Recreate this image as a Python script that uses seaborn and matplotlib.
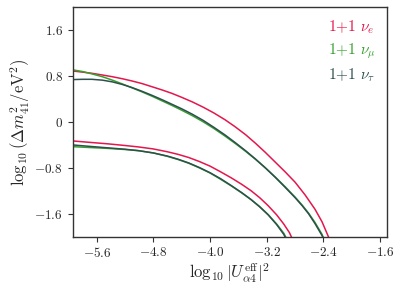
import numpy as np
import pandas as pd
import matplotlib
matplotlib.use("Agg")
import matplotlib.pyplot as plt
import seaborn as sns

# -------------------------
# data (log10 |U|^2 , log10 dm^2)
# -------------------------
flavours = [r"1+1 $\nu_e$", r"1+1 $\nu_\mu$", r"1+1 $\nu_\tau$"]
colours = ["#e3174c", "#35a02c", "#2f4f4f"]

# upper branch
up_e_x = [-5.94, -5.80, -5.67, -5.52, -5.38, -5.24, -5.10, -4.96, -4.82, -4.68, -4.54, -4.40, -4.25,
          -4.10, -3.95, -3.79, -3.65, -3.50, -3.36, -3.22, -3.08, -2.94, -2.80, -2.66, -2.52, -2.42, -2.33, -2.31]
up_e_y = [0.89, 0.87, 0.85, 0.82, 0.79, 0.755, 0.715, 0.67, 0.615, 0.56, 0.50, 0.43, 0.35,
          0.26, 0.16, 0.04, -0.08, -0.22, -0.37, -0.53, -0.70, -0.87, -1.05, -1.27, -1.52, -1.74, -2.00, -2.06]

up_mu_x = [-5.94, -5.80, -5.67, -5.52, -5.38, -5.24, -5.10, -4.96, -4.82, -4.68, -4.54, -4.40, -4.25,
           -4.10, -3.95, -3.79, -3.65, -3.50, -3.36, -3.22, -3.08, -2.94, -2.80, -2.70, -2.61, -2.52, -2.42, -2.40]
up_mu_y = [0.91, 0.88, 0.84, 0.79, 0.73, 0.665, 0.595, 0.525, 0.45, 0.37, 0.29, 0.205, 0.11,
           0.005, -0.11, -0.245, -0.37, -0.51, -0.65, -0.80, -0.96, -1.13, -1.31, -1.45, -1.59, -1.75, -1.96, -2.02]

up_tau_x = [-5.94, -5.80, -5.67, -5.52, -5.38, -5.24, -5.10, -4.96, -4.82, -4.68, -4.54, -4.40, -4.25,
            -4.10, -3.95, -3.79, -3.65, -3.50, -3.36, -3.22, -3.08, -2.94, -2.80, -2.70, -2.61, -2.52, -2.42, -2.405]
up_tau_y = [0.74, 0.745, 0.745, 0.73, 0.70, 0.655, 0.60, 0.535, 0.465, 0.39, 0.31, 0.23, 0.135,
            0.03, -0.09, -0.225, -0.355, -0.50, -0.645, -0.80, -0.965, -1.14, -1.32, -1.46, -1.60, -1.77, -1.98, -2.02]

# lower branch
lo_e_x = [-5.94, -5.70, -5.45, -5.20, -5.01, -4.80, -4.60, -4.45, -4.30, -4.15, -4.00,
          -3.85, -3.70, -3.55, -3.42, -3.30, -3.18, -3.06, -2.96, -2.88, -2.85]
lo_e_y = [-0.33, -0.355, -0.38, -0.41, -0.435, -0.47, -0.52, -0.565, -0.62, -0.69, -0.77,
          -0.87, -0.975, -1.09, -1.20, -1.32, -1.46, -1.62, -1.78, -1.93, -2.01]

lo_mu_x = [-5.94, -5.70, -5.45, -5.20, -5.01, -4.80, -4.60, -4.45, -4.30, -4.15, -4.00,
           -3.85, -3.70, -3.55, -3.42, -3.30, -3.18, -3.06, -2.96, -2.93]
lo_mu_y = [-0.43, -0.445, -0.46, -0.48, -0.50, -0.54, -0.60, -0.655, -0.72, -0.80, -0.89,
           -1.00, -1.115, -1.24, -1.355, -1.475, -1.615, -1.78, -1.94, -2.01]

lo_tau_x = [-5.94, -5.70, -5.45, -5.20, -5.01, -4.80, -4.60, -4.45, -4.30, -4.15, -4.00,
            -3.85, -3.70, -3.55, -3.42, -3.30, -3.18, -3.06, -2.96, -2.94]
lo_tau_y = [-0.40, -0.425, -0.45, -0.475, -0.50, -0.54, -0.595, -0.65, -0.715, -0.795, -0.885,
            -0.99, -1.11, -1.235, -1.355, -1.48, -1.62, -1.79, -1.96, -2.01]

x_ticks = [-5.6, -4.8, -4.0, -3.2, -2.4, -1.6]
y_ticks = [-1.6, -0.8, 0, 0.8, 1.6]

# -------------------------
# long table for seaborn
# -------------------------
pieces = [
    (flavours[0], "upper", up_e_x, up_e_y),
    (flavours[1], "upper", up_mu_x, up_mu_y),
    (flavours[2], "upper", up_tau_x, up_tau_y),
    (flavours[0], "lower", lo_e_x, lo_e_y),
    (flavours[1], "lower", lo_mu_x, lo_mu_y),
    (flavours[2], "lower", lo_tau_x, lo_tau_y),
]
df = pd.concat(
    [pd.DataFrame({"x": xs, "y": ys, "flavour": f, "branch": b}) for f, b, xs, ys in pieces],
    ignore_index=True,
)

sns.set_style("ticks")
plt.rcParams["font.family"] = "serif"
plt.rcParams["font.serif"] = ["cmr10", "DejaVu Serif"]
plt.rcParams["mathtext.fontset"] = "cm"
plt.rcParams["axes.formatter.use_mathtext"] = True


def tick_text(v):
    # 0 is written bare, everything else with one decimal
    return "$0$" if v == 0 else f"${v:.1f}$"


fig = plt.figure(figsize=(4.05, 2.94), dpi=100)
ax = fig.add_axes([0.1795, 0.195, 0.7765, 0.78])

sns.lineplot(
    data=df, x="x", y="y", hue="flavour", units="branch", estimator=None, sort=False,
    hue_order=flavours, palette=colours, linewidth=1.1, ax=ax,
)

ax.set_xlim(-5.94, -1.5)
ax.set_ylim(-2.0, 2.0)
ax.set_xticks(x_ticks)
ax.set_yticks(y_ticks)
ax.set_xticklabels([tick_text(v) for v in x_ticks])
ax.set_yticklabels([tick_text(v) for v in y_ticks])
ax.tick_params(labelsize=9.5, length=3.5, width=0.8, color="#333333")
for s in ax.spines.values():
    s.set_color("#333333")
    s.set_linewidth(1.0)

ax.set_xlabel(r"$\log_{10}|U_{\alpha 4}^{\rm eff}|^2$", fontsize=12, labelpad=1)
ax.set_ylabel(r"$\log_{10}(\Delta m_{41}^2/{\rm eV}^2)$", fontsize=12, labelpad=2)

leg = ax.legend(loc="upper right", frameon=False, fontsize=11, handlelength=0,
                handletextpad=0, borderaxespad=0.35, labelspacing=0.35)
for txt, c in zip(leg.get_texts(), colours):
    txt.set_color(c)
for h in leg.legend_handles:
    h.set_visible(False)

fig.savefig("out.png", dpi=100)
